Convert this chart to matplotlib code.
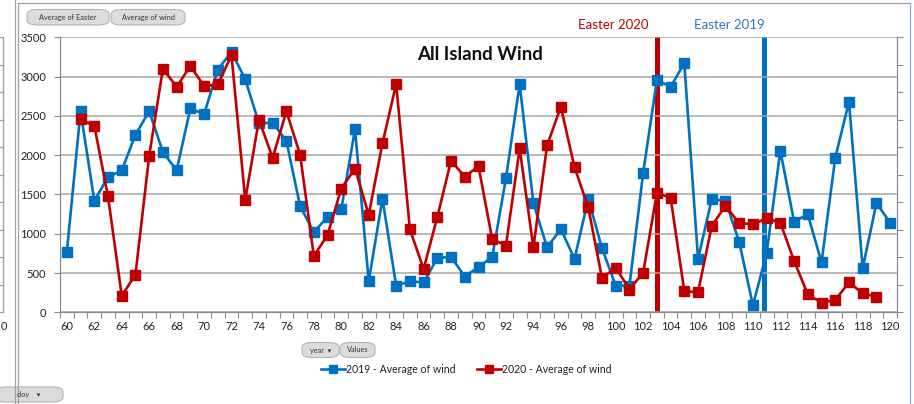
import numpy as np
import matplotlib
matplotlib.use("Agg")
import matplotlib.pyplot as plt
from matplotlib.patches import FancyBboxPatch
from matplotlib.lines import Line2D

plt.rcParams['font.family'] = ['Lato', 'DejaVu Sans']

# ---------------- data ----------------
days = list(range(60, 121))
wind_2019 = [770, 2560, 1420, 1720, 1805, 2260, 2560, 2040, 1805, 2595,
             2520, 3090, 3315, 2965, 2405, 2415, 2180, 1350, 1020, 1215,
             1315, 2330, 395, 1445, 340, 395, 380, 690, 705, 455,
             575, 705, 1705, 2905, 1390, 825, 1060, 680, 1445, 815,
             340, 335, 1775, 2955, 2870, 3170, 680, 1440, 1420, 895,
             90, 755, 2055, 1155, 1245, 635, 1965, 2680, 560, 1390,
             1140]
wind_2020 = [np.nan, 2455, 2375, 1475, 210, 480, 1990, 3100, 2870, 3135,
             2880, 2900, 3270, 1430, 2450, 1965, 2560, 2005, 715, 985,
             1575, 1830, 1240, 2150, 2905, 1055, 550, 1215, 1930, 1725,
             1860, 930, 850, 2085, 825, 2125, 2615, 1845, 1335, 435,
             570, 290, 505, 1515, 1460, 268, 255, 1100, 1355, 1135,
             1120, 1195, 1140, 655, 228, 123, 157, 380, 242, 198,
             np.nan]
easter_day = {"2019": 111, "2020": 103}
easter_offset = {"2019": -0.16, "2020": 0.06}
easter_width = {"2019": 0.30, "2020": 0.40}
series_labels = ["2019 - Average of wind", "2020 - Average of wind"]
x_tick_labels = list(range(60, 121, 2))
y_ticks = list(range(0, 3501, 500))

BLUE = "#0070C0"
RED = "#C00000"
GRID = "#A6A6A6"
AX = "#8C8C8C"

W, H = 914, 404
fig = plt.figure(figsize=(W / 100, H / 100), dpi=100)
fig.patch.set_facecolor("white")

def fx(px):
    return px / W

def fy(py):
    return 1 - py / H

# plot area
x0, x1, ytop, ybot = 60, 897, 37.3, 312.3
ax = fig.add_axes([fx(x0), fy(ybot), fx(x1 - x0), (ybot - ytop) / H])
ax.set_xlim(59.5, 120.5)
ax.set_ylim(0, 3500)
ax.set_yticks(y_ticks)
ax.set_yticklabels([str(v) for v in y_ticks], fontsize=8, color="#222222")
ax.set_xticks(x_tick_labels)
ax.set_xticklabels([str(v) for v in x_tick_labels], fontsize=8, color="#222222")
ax.set_xticks(np.arange(59.5, 121, 1.0), minor=True)
ax.tick_params(axis="x", which="major", length=0, pad=6)
ax.tick_params(axis="x", which="minor", length=4, color=AX, width=0.8, direction="out")
ax.tick_params(axis="y", which="major", length=4, color=AX, width=0.8, pad=6)
ax.grid(axis="y", color=GRID, linewidth=1.1, zorder=0)
for s in ["top", "right"]:
    ax.spines[s].set_visible(False)
for s in ["left", "bottom"]:
    ax.spines[s].set_color(AX)
    ax.spines[s].set_linewidth(0.9)
ax.set_axisbelow(True)

# secondary axis with Easter bars
ax2 = ax.twinx()
ax2.set_ylim(0, 1)
ax2.set_yticks(np.linspace(0, 1, 11))
ax2.set_yticklabels([])
ax2.tick_params(axis="y", length=4, color=AX, width=0.8)
for s in ["top", "left", "bottom"]:
    ax2.spines[s].set_visible(False)
ax2.spines["right"].set_color(AX)
ax2.spines["right"].set_linewidth(0.9)
ax2.bar(easter_day["2020"] + easter_offset["2020"], 1, width=easter_width["2020"], color=RED, zorder=1)
ax2.bar(easter_day["2019"] + easter_offset["2019"], 1, width=easter_width["2019"], color=BLUE, zorder=1)
ax2.set_zorder(ax.get_zorder() - 1)
ax.patch.set_visible(False)

ax.plot(days, wind_2019, color=BLUE, lw=1.9, marker="s", ms=6.5, zorder=3)
ax.plot(days, wind_2020, color=RED, lw=1.9, marker="s", ms=6.5, zorder=4)

# title and Easter labels
fig.text(fx(480.5), fy(55), "All Island Wind", fontsize=13.5, fontweight="bold",
         ha="center", va="center", color="#111111")
fig.text(fx(613), fy(25), "Easter 2020", fontsize=9.5, color=RED, ha="center", va="center")
fig.text(fx(729.5), fy(25), "Easter 2019", fontsize=9.5, color="#2E75C4", ha="center", va="center")

# legend
def legend_entry(xl, xr, xt, color, label, y=369.3):
    fig.add_artist(Line2D([fx(xl), fx(xr)], [fy(y), fy(y)], color=color, lw=1.9,
                          transform=fig.transFigure))
    fig.add_artist(Line2D([fx((xl + xr) / 2)], [fy(y)], color=color, marker="s", ms=6,
                          transform=fig.transFigure))
    fig.text(fx(xt), fy(y), label, fontsize=7.6, ha="left", va="center", color="#222222")

legend_entry(321, 345, 346.5, BLUE, series_labels[0])
legend_entry(477, 501, 502.5, RED, series_labels[1])

# pivot buttons
def button(xl, xr, yt, yb, text):
    p = FancyBboxPatch((fx(xl), fy(yb)), fx(xr - xl), (yb - yt) / H,
                       boxstyle="round,pad=0,rounding_size=0.012",
                       transform=fig.transFigure, facecolor="#DCDCDC",
                       edgecolor="#B4B4B4", linewidth=0.8)
    fig.add_artist(p)
    fig.text(fx((xl + xr) / 2), fy((yt + yb) / 2), text, fontsize=5.3,
             ha="center", va="center", color="#333333")

button(27, 109, 9.5, 25, "Average of Easter")
button(111, 185, 9.5, 25, "Average of wind")
button(302, 339, 342.5, 357.5, "year  \u25BE")
button(340, 375, 342.5, 357.5, "Values")
button(-5, 63, 387, 402, "doy    \u25BE")

# frame lines around the chart area
def fline(xs, ys, color="#A0A0A0", lw=0.9):
    fig.add_artist(Line2D([fx(v) for v in xs], [fy(v) for v in ys], color=color,
                          lw=lw, transform=fig.transFigure))

fline([15, 15], [0, 404])
fline([17.5, 17.5], [3, 404])
fline([17.5, 910], [3, 3])
fline([910, 910], [3, 404], color="#8FA9C8")
# left neighbouring chart axis
fline([3.3, 3.3], [37, 312])
for k in range(11):
    yy = 37.3 + k * 27.5
    fline([0, 3.3], [yy, yy])
fig.text(fx(0.5), fy(326.7), "0", fontsize=8, ha="left", va="center", color="#222222")

fig.savefig("out.png", dpi=100, facecolor="white")
